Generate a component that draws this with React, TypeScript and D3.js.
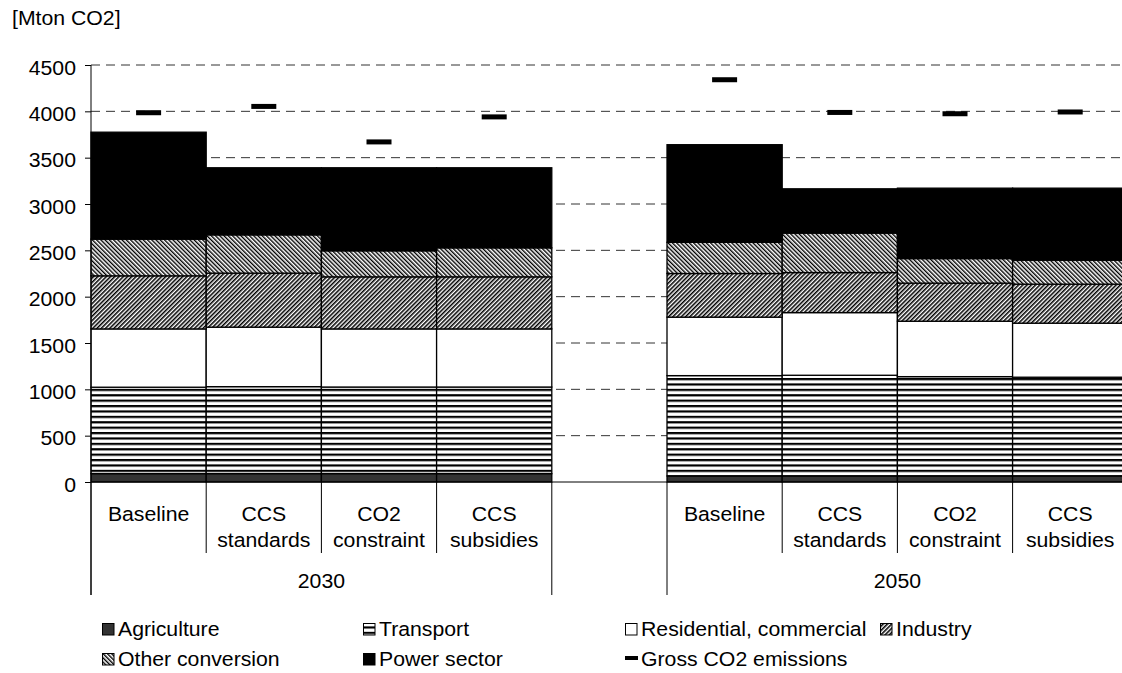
import React, { useRef, useEffect } from 'react';
import * as d3 from 'd3';

const years = ['2030', '2050'];
const scenarios = ['Baseline', 'CCS standards', 'CO2 constraint', 'CCS subsidies'];
const scenarioLines = [['Baseline'], ['CCS', 'standards'], ['CO2', 'constraint'], ['CCS', 'subsidies']];

// Mton CO2, order: 2030 x4 scenarios, then 2050 x4 scenarios
const agriculture = [90, 90, 90, 90, 65, 65, 65, 65];
const transport = [933, 939, 935, 935, 1083, 1087, 1072, 1066];
const residential = [629, 642, 627, 627, 631, 676, 598, 583];
const industry = [573, 583, 562, 562, 471, 432, 411, 421];
const otherConversion = [396, 413, 281, 313, 337, 426, 265, 259];
const powerSector = [1154, 724, 896, 864, 1053, 478, 760, 777];
const grossEmissions = [3985, 4053, 3670, 3940, 4341, 3988, 3974, 3993];

const yTicks = [0, 500, 1000, 1500, 2000, 2500, 3000, 3500, 4000, 4500];

const seriesNames = ['Agriculture', 'Transport', 'Residential, commercial', 'Industry', 'Other conversion', 'Power sector'];
const seriesValues = [agriculture, transport, residential, industry, otherConversion, powerSector];
const seriesFills = ['#333333', 'url(#pTransport)', '#ffffff', 'url(#pIndustry)', 'url(#pOther)', '#000000'];

const W = 1122;
const H = 673;
const FONT = '"Liberation Sans", Arial, sans-serif';
const FS = 19.5;
const SX = 1.09; // horizontal stretch of the original text

const Chart: React.FC = () => {
  const svgRef = useRef<SVGSVGElement | null>(null);

  useEffect(() => {
    if (!svgRef.current) return;
    const svg = d3.select(svgRef.current);
    svg.selectAll('*').remove();

    const left = 91;
    const band = 115.2;

    // slots: 4 scenarios of 2030, an empty slot, 4 scenarios of 2050
    const slots: string[] = [];
    years.forEach((yr, i) => {
      if (i > 0) slots.push('gap');
      scenarios.forEach(s => slots.push(`${yr}|${s}`));
    });
    const barSlots = slots.filter(s => s !== 'gap');

    const x = d3.scaleBand().domain(slots).range([left, left + band * slots.length]).padding(0);
    const y = d3.scaleLinear().domain([0, 4500]).range([482, 65]);

    const rows = barSlots.map((slot, i) => {
      const r: any = { slot };
      seriesNames.forEach((n, k) => { r[n] = seriesValues[k][i]; });
      return r;
    });
    const stacked = d3.stack<any>().keys(seriesNames)(rows);

    const defs = svg.append('defs');
    const pt = defs.append('pattern').attr('id', 'pTransport').attr('patternUnits', 'userSpaceOnUse')
      .attr('width', 10).attr('height', 5.4);
    pt.append('rect').attr('width', 10).attr('height', 5.4).attr('fill', '#fff');
    pt.append('rect').attr('width', 10).attr('height', 2.2).attr('fill', '#000');

    const diag = (id: string, angle: number, w: number) => {
      const p = defs.append('pattern').attr('id', id).attr('patternUnits', 'userSpaceOnUse')
        .attr('width', 3).attr('height', 3).attr('patternTransform', `rotate(${angle})`);
      p.append('rect').attr('width', 3).attr('height', 3).attr('fill', '#fff');
      p.append('rect').attr('width', w).attr('height', 3).attr('fill', '#000');
    };
    diag('pIndustry', 45, 1.55);
    diag('pOther', -45, 1.4);

    const addText = (g: any, tx: number, ty: number, str: string, anchor: string) =>
      g.append('text')
        .attr('transform', `translate(${tx},${ty}) scale(${SX},1)`)
        .attr('text-anchor', anchor)
        .attr('font-family', FONT)
        .attr('font-size', FS)
        .attr('fill', '#000')
        .text(str);

    // unit title
    addText(svg, 12, 25, '[Mton CO2]', 'start');

    // gridlines
    svg.append('g').selectAll('line').data(yTicks.filter(t => t > 0)).join('line')
      .attr('x1', left).attr('x2', W)
      .attr('y1', d => y(d)).attr('y2', d => y(d))
      .attr('stroke', '#333').attr('stroke-width', 1).attr('stroke-dasharray', '9,6');

    // y axis
    const yAxis = svg.append('g').attr('transform', `translate(${left},0)`)
      .call(d3.axisLeft(y).tickValues(yTicks).tickSize(6).tickPadding(7.8).tickFormat(d3.format('d')));
    yAxis.select('.domain').remove();
    yAxis.selectAll('line').attr('stroke', '#000');
    yAxis.selectAll('text')
      .attr('font-family', FONT).attr('font-size', FS).attr('fill', '#000')
      .attr('dy', '0.47em')
      .attr('transform', `scale(${SX},1)`);

    // bars
    const barG = svg.append('g');
    stacked.forEach((layer, k) => {
      barG.append('g').selectAll('rect').data(layer).join('rect')
        .attr('x', d => x(d.data.slot) as number)
        .attr('width', x.bandwidth())
        .attr('y', d => y(d[1]))
        .attr('height', d => y(d[0]) - y(d[1]))
        .attr('fill', seriesFills[k])
        .attr('stroke', '#000')
        .attr('stroke-width', 1.3);
    });

    // gross emissions markers
    svg.append('g').selectAll('rect').data(grossEmissions).join('rect')
      .attr('x', (d, i) => (x(barSlots[i]) as number) + x.bandwidth() / 2 - 12.5)
      .attr('y', d => y(d) - 2.5)
      .attr('width', 25).attr('height', 5)
      .attr('fill', '#000');

    // axis lines
    svg.append('line').attr('x1', left).attr('x2', left).attr('y1', y(4500)).attr('y2', 595)
      .attr('stroke', '#000').attr('stroke-width', 1);
    svg.append('line').attr('x1', left).attr('x2', W).attr('y1', y(0)).attr('y2', y(0))
      .attr('stroke', '#000').attr('stroke-width', 1);

    // category separators and labels
    const catG = svg.append('g');
    slots.forEach((s, i) => {
      const x0 = x(s) as number;
      const prevGap = i === 0 || slots[i - 1] === 'gap' || s === 'gap';
      catG.append('line').attr('x1', x0).attr('x2', x0).attr('y1', y(0)).attr('y2', prevGap ? 595 : 553)
        .attr('stroke', '#000').attr('stroke-width', 1);
    });
    const xEnd = left + band * slots.length;
    catG.append('line').attr('x1', xEnd).attr('x2', xEnd).attr('y1', y(0)).attr('y2', 595)
      .attr('stroke', '#000');

    barSlots.forEach((s, i) => {
      const cx = (x(s) as number) + x.bandwidth() / 2;
      scenarioLines[i % scenarios.length].forEach((ln, j) => addText(catG, cx, 521 + j * 26, ln, 'middle'));
    });
    years.forEach(yr => {
      const first = x(`${yr}|${scenarios[0]}`) as number;
      const last = (x(`${yr}|${scenarios[scenarios.length - 1]}`) as number) + x.bandwidth();
      addText(catG, (first + last) / 2, 588, yr, 'middle');
    });

    // legend
    const legendItems = [
      ...seriesNames.map((n, k) => ({ name: n, fill: seriesFills[k], line: false })),
      { name: 'Gross CO2 emissions', fill: '#000', line: true },
    ];
    const legendOrder = [0, 1, 2, 3, 4, 5, 6];
    const colX = [102, 363, 625, 880];
    const rowY = [636, 666];
    const legG = svg.append('g');
    legendOrder.forEach((idx, pos) => {
      const it = legendItems[idx];
      const lx = colX[pos % 4];
      const ly = rowY[Math.floor(pos / 4)];
      if (it.line) {
        legG.append('rect').attr('x', lx).attr('y', ly - 10).attr('width', 13).attr('height', 4).attr('fill', '#000');
      } else {
        legG.append('rect').attr('x', lx + 0.5).attr('y', ly - 12.5).attr('width', 11.5).attr('height', 11.5)
          .attr('fill', it.fill).attr('stroke', '#000').attr('stroke-width', 1);
      }
      addText(legG, lx + 16, ly, it.name, 'start');
    });
  }, []);

  return (
    <svg ref={svgRef} width={W} height={H}
      style={{ position: 'absolute', left: 0, top: 0, background: '#fff' }} />
  );
};

export default function App() {
  return <Chart />;
}
